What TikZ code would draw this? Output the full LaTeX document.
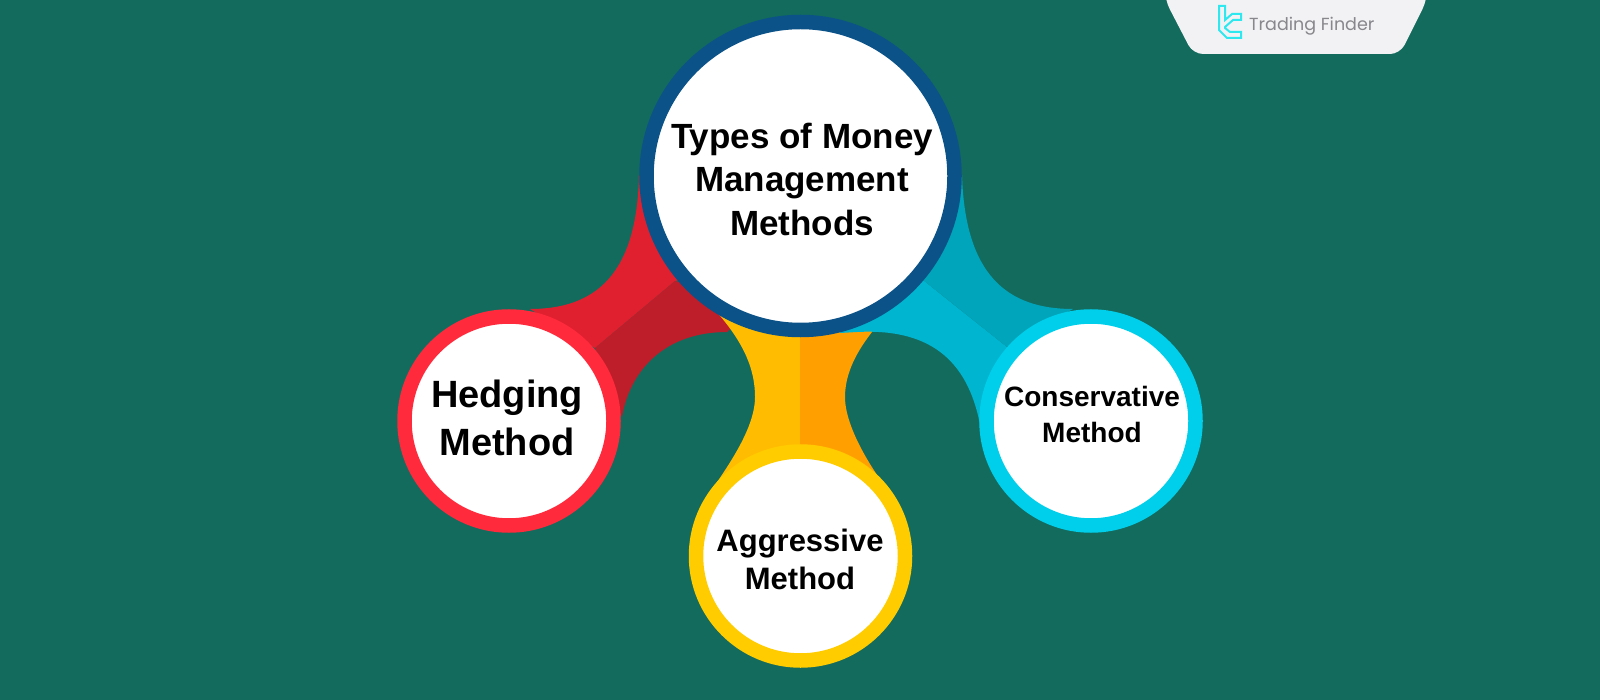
\documentclass[tikz,border=0pt]{standalone}
\usepackage{fontspec}
\setmainfont{Liberation Sans}
\newfontfamily\logofont{Poppins}
\definecolor{bgteal}{RGB}{19,107,94}
\definecolor{ringblue}{RGB}{10,82,136}
\definecolor{ringred}{RGB}{255,42,60}
\definecolor{ringyellow}{RGB}{255,204,0}
\definecolor{ringcyan}{RGB}{0,207,235}
\definecolor{redlight}{RGB}{224,32,47}
\definecolor{reddark}{RGB}{190,30,42}
\definecolor{yellowlight}{RGB}{255,188,0}
\definecolor{yelloworange}{RGB}{255,160,0}
\definecolor{cyandark}{RGB}{0,165,187}
\definecolor{cyanlight}{RGB}{0,181,208}
\definecolor{panelgrey}{RGB}{242,242,244}
\definecolor{logocyan}{RGB}{46,232,240}
\definecolor{logogrey}{RGB}{135,135,140}
\tikzset{
  ringnode/.style={circle,draw=#1,line width=14.5pt,fill=white,inner sep=0pt,outer sep=0pt},
  labeltext/.style={text=black,align=center,inner sep=0pt,font=\bfseries}
}
\begin{document}
\begin{tikzpicture}[x=1pt,y=-1pt]
\useasboundingbox (0,0) rectangle (1600,700);
\fill[bgteal] (0,0) rectangle (1600,700);
% logo panel
\fill[panelgrey,rounded corners=10pt] (1165,-20) -- (1165,0) -- (1193,54) -- (1400,54) -- (1427,0) -- (1427,-20) -- cycle;
\draw[logocyan,line width=2pt,line join=miter] (1219,6) -- (1225,6) -- (1225,20) -- (1232,14) -- (1241,14) -- (1241,20) -- (1233,20) -- (1225,27) -- (1225,28) -- (1230,32) -- (1241,32) -- (1241,38) -- (1227,38) -- (1219,30) -- (1219,22) -- cycle;
\node[font=\logofont\fontsize{17.5}{20}\selectfont,text=logogrey,inner sep=0pt,anchor=base west] (logo) at (1249,31) {Trading Finder};
% red connector
\fill[redlight] (639,175) .. controls (637,275) and (595,309) .. (530,309) -- (595,348) -- (675,281) -- (720,270) -- cycle;
\fill[reddark] (675,281) -- (595,348) -- (622,417) .. controls (630,370) and (665,332) .. (727,332) -- (760,300) -- cycle;
% yellow connector
\fill[yellowlight] (702,296) .. controls (735,330) and (755,360) .. (755,397) .. controls (755,430) and (725,470) .. (707,497) -- (801,520) -- (801,320) -- cycle;
\fill[yelloworange] (800,320) -- (800,520) -- (893,497) .. controls (868,465) and (845,425) .. (845,397) .. controls (845,372) and (858,350) .. (872,332) -- (872,320) -- cycle;
% cyan connector
\fill[cyanlight] (840,333) -- (857,332) .. controls (935,328) and (970,365) .. (981,430) -- (1007,347) -- (923,280) -- (880,290) -- cycle;
\fill[cyandark] (962,175) .. controls (965,275) and (1007,309) .. (1073,309) -- (1007,347) -- (923,280) -- (900,250) -- cycle;
% circles
\node[ringnode=ringblue,minimum size=308pt] (main) at (800.5,176) {};
\node[ringnode=ringred,minimum size=209pt] (hedge) at (509,421) {};
\node[ringnode=ringyellow,minimum size=209pt] (aggr) at (800.5,556) {};
\node[ringnode=ringcyan,minimum size=209pt] (cons) at (1091,421) {};
% labels
\node[labeltext,font=\bfseries\fontsize{35}{43.5}\selectfont] (tmain) at (802,179) {Types of Money\\Management\\Methods};
\node[labeltext,font=\bfseries\fontsize{38}{48}\selectfont] (thedge) at (507,418) {Hedging\\Method};
\node[labeltext,font=\bfseries\fontsize{31}{38}\selectfont] (taggr) at (800,559) {Aggressive\\Method};
\node[labeltext,font=\bfseries\fontsize{28}{35.5}\selectfont] (tcons) at (1092,414.5) {Conservative\\Method};
\end{tikzpicture}
\end{document}
